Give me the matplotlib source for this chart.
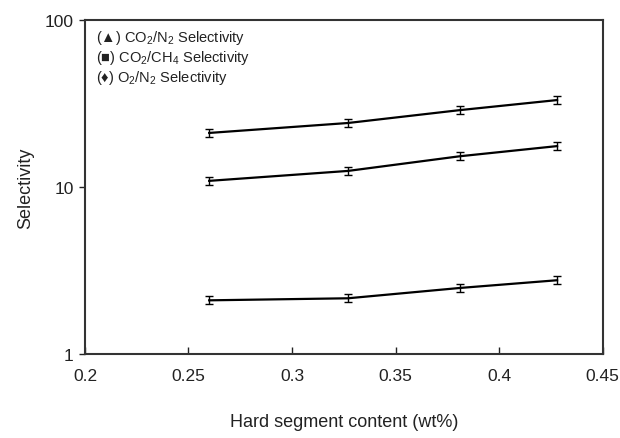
import numpy as np
import matplotlib.pyplot as plt
from matplotlib.ticker import FixedLocator, NullLocator, FixedFormatter

plt.rcParams['font.family'] = ['Liberation Sans', 'DejaVu Sans']
plt.rcParams['mathtext.fontset'] = 'custom'
plt.rcParams['mathtext.rm'] = 'Liberation Sans'

# dados
hard_segment = [0.26, 0.327, 0.381, 0.428]
co2_n2 = [21.1, 24.2, 28.9, 33.2]
co2_ch4 = [10.9, 12.5, 15.3, 17.6]
o2_n2 = [2.10, 2.16, 2.49, 2.77]
erro_rel = 0.055

legenda = [
    '(\u25b2) CO$\\mathregular{_2}$/N$\\mathregular{_2}$ Selectivity',
    '(\u25a0) CO$\\mathregular{_2}$/CH$\\mathregular{_4}$ Selectivity',
    '(\u2666) O$\\mathregular{_2}$/N$\\mathregular{_2}$ Selectivity',
]

fig = plt.figure(figsize=(6.2, 4.39), dpi=100)
ax = fig.add_axes([0.137, 0.191, 0.835, 0.761])

for serie in [co2_n2, co2_ch4, o2_n2]:
    y = np.array(serie)
    ax.errorbar(hard_segment, y, yerr=y * erro_rel, color='black', lw=1.6,
                elinewidth=1.0, capsize=3, capthick=1.0)

ax.set_yscale('log')
ax.set_xlim(0.2, 0.45)
ax.set_ylim(1, 100)
ax.yaxis.set_major_locator(FixedLocator([1, 10, 100]))
ax.yaxis.set_major_formatter(FixedFormatter(['1', '10', '100']))
ax.yaxis.set_minor_locator(NullLocator())
ax.set_xticks([0.2, 0.25, 0.3, 0.35, 0.4, 0.45])
ax.set_xticklabels(['0.2', '0.25', '0.3', '0.35', '0.4', '0.45'])

ax.tick_params(axis='x', direction='in', length=5, width=1, labelsize=12.5, pad=10, colors='#222222')
ax.tick_params(axis='y', direction='out', length=4, width=1, labelsize=12.5, pad=4, colors='#222222')
for s in ax.spines.values():
    s.set_linewidth(1.5)
    s.set_color('#333333')

ax.set_xlabel('Hard segment content (wt%)', fontsize=13, labelpad=21.5, color='#222222')
ax.set_ylabel('Selectivity', fontsize=13, labelpad=8, color='#222222')

for i, t in enumerate(legenda):
    ax.text(0.022, 0.95 - i * 0.06, t, transform=ax.transAxes, fontsize=10.5,
            va='center', ha='left', color='#222222')

fig.savefig('out.png', dpi=100)
